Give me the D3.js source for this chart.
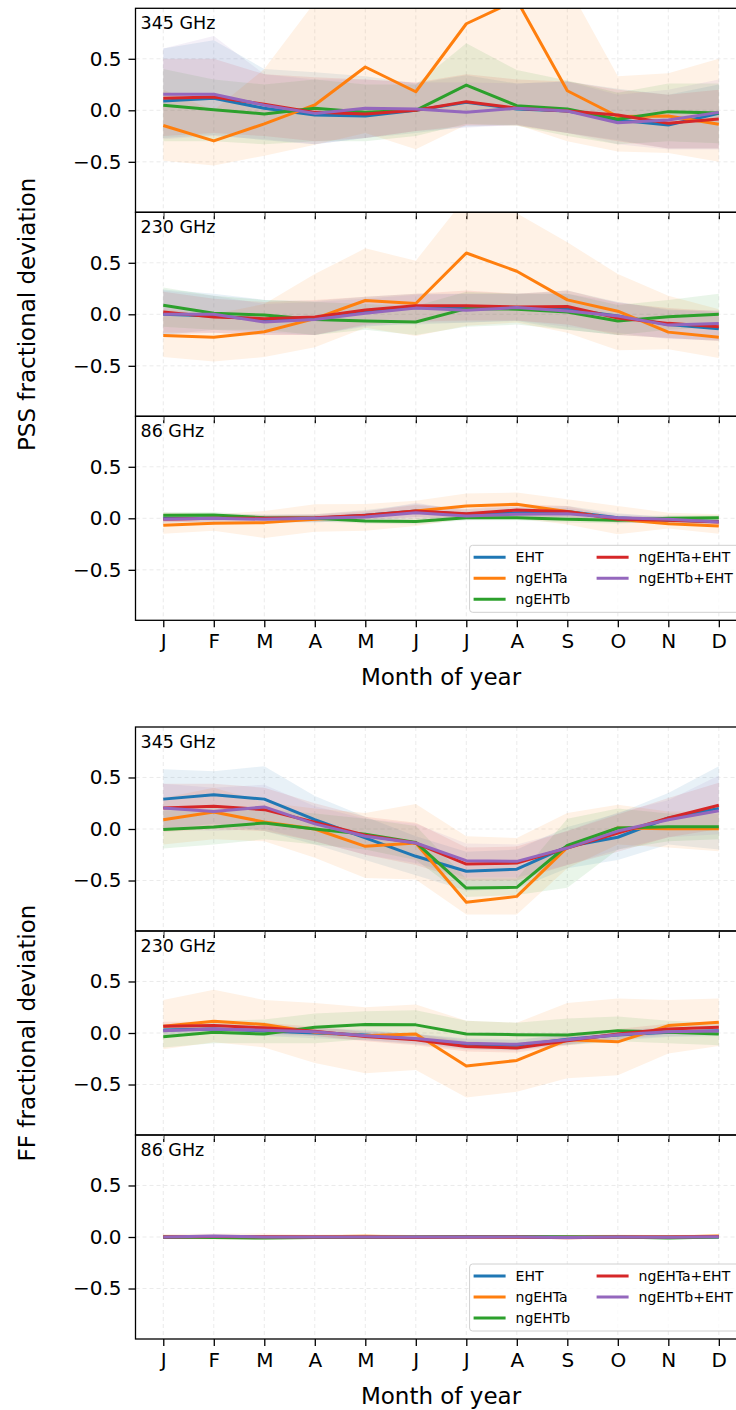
<!DOCTYPE html>
<html>
<head>
<meta charset="utf-8">
<script src="https://cdn.jsdelivr.net/npm/d3@7"></script>
<style>
  body { margin: 0; background: #fff; }
  svg { display: block; font-family: 'DejaVu Sans', sans-serif; }
</style>
</head>
<body>
<div id="chart"></div>
<script>
var months = ['J', 'F', 'M', 'A', 'M', 'J', 'J', 'A', 'S', 'O', 'N', 'D'];
var series = ['EHT', 'ngEHTa', 'ngEHTb', 'ngEHTa+EHT', 'ngEHTb+EHT'];
var colors = ['#1f77b4', '#ff7f0e', '#2ca02c', '#d62728', '#9467bd'];
var freqLabels = ['345 GHz', '230 GHz', '86 GHz'];
var yTicks = [-0.5, 0, 0.5];
var yLabels = ['PSS fractional deviation', 'FF fractional deviation'];

// PSS, 345 GHz (rows follow series order)
var pss345Mid = [
  [0.09, 0.116, 0.02, -0.045, -0.055, 0, 0.077, 0.013, -0.006, -0.094, -0.142, -0.03],
  [-0.148, -0.297, -0.132, 0.052, 0.42, 0.18, 0.84, 1.07, 0.19, -0.06, -0.055, -0.135],
  [0.05, 0.006, -0.035, 0.02, -0.02, 0, 0.245, 0.045, 0.013, -0.087, -0.013, -0.026],
  [0.116, 0.13, 0.058, -0.02, -0.035, 0, 0.084, 0.02, -0.006, -0.045, -0.126, -0.084],
  [0.155, 0.155, 0.05, -0.03, 0.02, 0.013, -0.02, 0.02, -0.006, -0.12, -0.094, -0.02]
];
var pss345Lo = [
  [-0.27, -0.24, -0.29, -0.33, -0.27, -0.22, -0.16, -0.14, -0.22, -0.29, -0.37, -0.37],
  [-0.49, -0.535, -0.44, -0.335, -0.22, -0.377, -0.14, -0.14, -0.3, -0.4, -0.415, -0.5],
  [-0.3, -0.3, -0.33, -0.3, -0.3, -0.25, -0.13, -0.15, -0.25, -0.33, -0.3, -0.32],
  [-0.25, -0.22, -0.25, -0.3, -0.27, -0.2, -0.15, -0.15, -0.22, -0.3, -0.37, -0.37],
  [-0.28, -0.25, -0.28, -0.33, -0.27, -0.2, -0.17, -0.14, -0.22, -0.33, -0.38, -0.38]
];
var pss345Hi = [
  [0.6, 0.68, 0.4, 0.37, 0.33, 0.26, 0.34, 0.26, 0.28, 0.21, 0.15, 0.25],
  [0.2, 0.0, 0.4, 1.05, 1.5, 1.3, 1.7, 2.1, 1.22, 0.33, 0.36, 0.5],
  [0.4, 0.3, 0.25, 0.3, 0.25, 0.25, 0.65, 0.39, 0.29, 0.17, 0.26, 0.26],
  [0.5, 0.5, 0.35, 0.32, 0.3, 0.27, 0.35, 0.3, 0.28, 0.2, 0.15, 0.2],
  [0.6, 0.72, 0.35, 0.3, 0.3, 0.27, 0.27, 0.26, 0.28, 0.15, 0.2, 0.3]
];

// PSS, 230 GHz
var pss230Mid = [
  [0, -0.016, -0.05, -0.05, 0.033, 0.065, 0.06, 0.065, 0.05, -0.016, -0.1, -0.14],
  [-0.206, -0.222, -0.17, -0.042, 0.134, 0.105, 0.595, 0.418, 0.14, 0.03, -0.173, -0.222],
  [0.088, 0.01, -0.007, -0.05, -0.065, -0.075, 0.055, 0.05, 0.023, -0.065, -0.023, 0],
  [0.023, -0.026, -0.042, -0.026, 0.042, 0.082, 0.082, 0.072, 0.075, -0.036, -0.088, -0.12],
  [0, 0, -0.075, -0.05, 0.01, 0.06, 0.04, 0.065, 0.033, -0.016, -0.105, -0.09]
];
var pss230Lo = [
  [-0.2, -0.15, -0.18, -0.2, -0.11, -0.1, -0.08, -0.065, -0.15, -0.2, -0.23, -0.26],
  [-0.415, -0.457, -0.415, -0.32, -0.13, -0.21, -0.11, -0.08, -0.18, -0.35, -0.34, -0.425],
  [-0.12, -0.15, -0.15, -0.2, -0.15, -0.2, -0.12, -0.1, -0.15, -0.2, -0.15, -0.12],
  [-0.18, -0.18, -0.2, -0.2, -0.1, -0.07, -0.06, -0.06, -0.1, -0.2, -0.23, -0.26],
  [-0.2, -0.18, -0.2, -0.2, -0.12, -0.08, -0.08, -0.06, -0.12, -0.18, -0.24, -0.25]
];
var pss230Hi = [
  [0.24, 0.2, 0.14, 0.13, 0.17, 0.2, 0.2, 0.2, 0.23, 0.12, 0.05, 0.02],
  [0.05, 0.0, 0.1, 0.39, 0.64, 0.52, 1.14, 0.98, 0.7, 0.39, 0.18, 0.05],
  [0.26, 0.18, 0.14, 0.12, 0.1, 0.08, 0.22, 0.2, 0.2, 0.09, 0.14, 0.2],
  [0.22, 0.15, 0.12, 0.14, 0.17, 0.2, 0.23, 0.2, 0.23, 0.11, 0.06, 0.03],
  [0.23, 0.18, 0.1, 0.12, 0.15, 0.19, 0.2, 0.2, 0.2, 0.12, 0.04, 0.04]
];

// PSS, 86 GHz
var pss86Mid = [
  [0, 0, 0, 0, 0.03, 0.07, 0.04, 0.055, 0.065, 0.006, -0.02, -0.03],
  [-0.068, -0.049, -0.042, -0.01, 0.023, 0.07, 0.12, 0.136, 0.065, -0.01, -0.052, -0.075],
  [0.03, 0.032, 0.006, 0, -0.026, -0.032, 0.006, 0.006, -0.01, -0.02, 0, 0.006],
  [-0.01, 0, 0, 0.006, 0.03, 0.07, 0.045, 0.08, 0.065, -0.01, -0.02, -0.035],
  [-0.01, 0, -0.01, 0, 0.013, 0.055, 0.023, 0.04, 0.045, 0.006, -0.01, -0.035]
];
var pss86Lo = [
  [-0.04, -0.04, -0.04, -0.04, -0.02, 0.01, -0.01, 0.0, 0.01, -0.04, -0.05, -0.06],
  [-0.15, -0.12, -0.19, -0.13, -0.12, -0.075, 0, 0, -0.06, -0.155, -0.1, -0.15],
  [0.0, 0.0, -0.02, -0.03, -0.05, -0.06, -0.02, -0.02, -0.04, -0.05, -0.03, -0.02],
  [-0.04, -0.03, -0.03, -0.03, -0.01, 0.01, 0, 0.02, 0.01, -0.04, -0.05, -0.06],
  [-0.04, -0.03, -0.04, -0.03, -0.03, -0.01, -0.02, 0, 0, -0.03, -0.04, -0.06]
];
var pss86Hi = [
  [0.04, 0.04, 0.04, 0.04, 0.08, 0.14, 0.09, 0.11, 0.12, 0.05, 0.01, 0.0],
  [0.055, 0.04, 0.07, 0.136, 0.14, 0.17, 0.24, 0.25, 0.185, 0.12, 0.055, 0.04],
  [0.06, 0.06, 0.03, 0.03, 0.0, 0.0, 0.03, 0.03, 0.02, 0.01, 0.03, 0.03],
  [0.02, 0.03, 0.03, 0.04, 0.07, 0.13, 0.09, 0.14, 0.12, 0.02, 0.01, -0.01],
  [0.02, 0.03, 0.02, 0.03, 0.06, 0.15, 0.07, 0.09, 0.1, 0.04, 0.02, -0.01]
];

// FF, 345 GHz
var ff345Mid = [
  [0.29, 0.333, 0.29, 0.09, -0.087, -0.265, -0.41, -0.39, -0.17, -0.08, 0.107, 0.2],
  [0.09, 0.165, 0.068, 0, -0.168, -0.136, -0.71, -0.654, -0.178, 0.01, 0.003, 0.003],
  [-0.006, 0.02, 0.058, 0, -0.05, -0.13, -0.573, -0.566, -0.16, 0.01, 0.023, 0.023],
  [0.204, 0.22, 0.188, 0.065, -0.06, -0.136, -0.34, -0.33, -0.185, -0.04, 0.107, 0.23],
  [0.204, 0.17, 0.214, 0.05, -0.07, -0.136, -0.307, -0.314, -0.185, -0.02, 0.09, 0.178]
];
var ff345Lo = [
  [0.0, 0.05, -0.02, -0.15, -0.3, -0.45, -0.6, -0.58, -0.38, -0.3, -0.15, -0.2],
  [-0.15, -0.1, -0.12, -0.28, -0.476, -0.49, -0.83, -0.83, -0.38, -0.15, -0.18, -0.217],
  [-0.19, -0.15, -0.1, -0.15, -0.2, -0.3, -0.66, -0.64, -0.57, -0.2, -0.12, -0.1],
  [-0.03, 0.0, -0.02, -0.12, -0.25, -0.35, -0.5, -0.5, -0.35, -0.22, -0.08, 0.0],
  [0.0, -0.02, 0.0, -0.12, -0.25, -0.33, -0.47, -0.47, -0.35, -0.2, -0.08, -0.05]
];
var ff345Hi = [
  [0.58, 0.56, 0.61, 0.32, 0.12, -0.07, -0.22, -0.2, 0.02, 0.15, 0.35, 0.61],
  [0.3, 0.4, 0.26, 0.2, 0.155, 0.243, -0.07, -0.087, 0.155, 0.236, 0.17, 0.17],
  [0.18, 0.2, 0.2, 0.15, 0.1, 0.03, -0.48, -0.48, 0.1, 0.2, 0.15, 0.15],
  [0.44, 0.44, 0.4, 0.25, 0.12, 0.06, -0.18, -0.17, -0.02, 0.14, 0.3, 0.45],
  [0.44, 0.4, 0.43, 0.22, 0.1, 0.05, -0.14, -0.15, -0.02, 0.16, 0.28, 0.52]
];

// FF, 230 GHz
var ff230Mid = [
  [0.03, 0.04, 0.02, 0, -0.02, -0.06, -0.11, -0.12, -0.06, -0.02, 0.007, 0.023],
  [0.066, 0.115, 0.082, 0.007, -0.026, -0.01, -0.32, -0.266, -0.066, -0.086, 0.072, 0.105],
  [-0.036, 0.007, -0.01, 0.056, 0.082, 0.079, -0.01, -0.016, -0.02, 0.023, 0.007, -0.01],
  [0.066, 0.072, 0.05, 0.016, -0.033, -0.066, -0.13, -0.145, -0.075, -0.01, 0.04, 0.056],
  [0.023, 0.04, 0.026, 0.013, -0.026, -0.053, -0.1, -0.11, -0.066, -0.016, 0.013, 0.02]
];
var ff230Lo = [
  [-0.02, -0.01, -0.03, -0.05, -0.07, -0.11, -0.16, -0.17, -0.11, -0.07, -0.04, -0.03],
  [-0.158, -0.09, -0.14, -0.29, -0.39, -0.36, -0.625, -0.57, -0.44, -0.41, -0.2, -0.125],
  [-0.14, -0.1, -0.1, -0.1, -0.06, -0.06, -0.125, -0.125, -0.12, -0.08, -0.1, -0.12],
  [0.02, 0.03, 0.0, -0.03, -0.08, -0.12, -0.18, -0.19, -0.12, -0.06, -0.01, 0.01],
  [-0.02, 0.0, -0.02, -0.03, -0.07, -0.1, -0.15, -0.16, -0.11, -0.06, -0.03, -0.02]
];
var ff230Hi = [
  [0.08, 0.09, 0.07, 0.05, 0.03, -0.01, -0.06, -0.07, -0.01, 0.03, 0.05, 0.07],
  [0.32, 0.42, 0.32, 0.29, 0.25, 0.276, 0.12, 0.1, 0.29, 0.335, 0.32, 0.335],
  [0.07, 0.12, 0.13, 0.19, 0.21, 0.22, 0.12, 0.1, 0.14, 0.16, 0.12, 0.1],
  [0.11, 0.11, 0.1, 0.06, 0.01, -0.01, -0.08, -0.1, -0.03, 0.04, 0.09, 0.1],
  [0.07, 0.08, 0.07, 0.05, 0.02, -0.01, -0.05, -0.06, -0.02, 0.03, 0.05, 0.06]
];

// FF, 86 GHz
var ff86Mid = [
  [-0.005, 0.005, 0, 0, -0.003, 0, 0, 0, 0.003, 0, 0, 0],
  [0.005, 0.005, 0.003, 0.003, 0.008, 0, 0.003, -0.003, 0, 0.003, 0, 0.01],
  [0, -0.005, -0.01, -0.005, -0.003, 0, 0.005, 0.005, 0, 0, -0.01, 0],
  [0, 0.005, 0.003, 0, 0, -0.003, 0, 0, -0.008, 0, 0, 0.005],
  [0, 0.01, 0, 0, 0, 0, 0, 0, -0.005, 0, -0.003, 0.003]
];
var ff86Lo = [
  [-0.02, -0.01, -0.015, -0.015, -0.018, -0.015, -0.015, -0.015, -0.012, -0.015, -0.015, -0.015],
  [-0.02, -0.025, -0.03, -0.02, -0.015, -0.02, -0.015, -0.02, -0.02, -0.015, -0.02, -0.01],
  [-0.012, -0.018, -0.022, -0.018, -0.015, -0.012, -0.008, -0.008, -0.012, -0.012, -0.022, -0.012],
  [-0.012, -0.008, -0.01, -0.012, -0.012, -0.015, -0.012, -0.012, -0.02, -0.012, -0.012, -0.008],
  [-0.012, -0.004, -0.012, -0.012, -0.012, -0.012, -0.012, -0.012, -0.017, -0.012, -0.015, -0.01]
];
var ff86Hi = [
  [0.01, 0.02, 0.015, 0.015, 0.012, 0.015, 0.015, 0.015, 0.018, 0.015, 0.015, 0.015],
  [0.03, 0.035, 0.035, 0.025, 0.03, 0.02, 0.02, 0.015, 0.02, 0.025, 0.02, 0.03],
  [0.012, 0.008, 0.002, 0.008, 0.009, 0.012, 0.018, 0.018, 0.012, 0.012, 0.002, 0.012],
  [0.012, 0.018, 0.016, 0.012, 0.012, 0.009, 0.012, 0.012, 0.004, 0.012, 0.012, 0.018],
  [0.012, 0.024, 0.012, 0.012, 0.012, 0.012, 0.012, 0.012, 0.007, 0.012, 0.009, 0.016]
];

var width = 736;
var height = 1410;
var plotLeft = 135.5;
var plotRight = 746.6;
var panelH = 204;
var groupTops = [8.3, 727];

var groups = [
  { label: yLabels[0], panels: [
    { mid: pss345Mid, lo: pss345Lo, hi: pss345Hi },
    { mid: pss230Mid, lo: pss230Lo, hi: pss230Hi },
    { mid: pss86Mid, lo: pss86Lo, hi: pss86Hi }
  ] },
  { label: yLabels[1], panels: [
    { mid: ff345Mid, lo: ff345Lo, hi: ff345Hi },
    { mid: ff230Mid, lo: ff230Lo, hi: ff230Hi },
    { mid: ff86Mid, lo: ff86Lo, hi: ff86Hi }
  ] }
];

var svg = d3
  .select('#chart')
  .append('svg')
  .attr('width', width)
  .attr('height', height);

var x = d3.scaleLinear().domain([-0.55, 11.55]).range([plotLeft, plotRight]);
var fmt = d3.format('.1f');

groups.forEach(function(g, gi) {
  g.panels.forEach(function(p, pi) {
    var top = groupTops[gi] + pi * panelH;
    var bottom = top + panelH;
    var isLast = pi === g.panels.length - 1;
    var y = d3.scaleLinear().domain([-0.99, 0.99]).range([bottom, top]);
    var id = 'clip-' + gi + '-' + pi;

    svg
      .append('clipPath')
      .attr('id', id)
      .append('rect')
      .attr('x', plotLeft)
      .attr('y', top)
      .attr('width', plotRight - plotLeft)
      .attr('height', panelH);

    var panel = svg.append('g').attr('class', 'panel');
    var inner = panel.append('g').attr('clip-path', 'url(#' + id + ')');

    // grid
    inner
      .selectAll('line.vgrid')
      .data(d3.range(months.length))
      .enter()
      .append('line')
      .attr('x1', d => x(d))
      .attr('x2', d => x(d))
      .attr('y1', top)
      .attr('y2', bottom)
      .attr('stroke', '#e6e6e6')
      .attr('stroke-width', 0.8)
      .attr('stroke-dasharray', '4,3');
    inner
      .selectAll('line.hgrid')
      .data(yTicks)
      .enter()
      .append('line')
      .attr('x1', plotLeft)
      .attr('x2', plotRight)
      .attr('y1', d => y(d))
      .attr('y2', d => y(d))
      .attr('stroke', '#e6e6e6')
      .attr('stroke-width', 0.8)
      .attr('stroke-dasharray', '4,3');

    // bands
    var area = d3
      .area()
      .x((d, i) => x(i))
      .y0(d => y(d[0]))
      .y1(d => y(d[1]));
    series.forEach(function(s, si) {
      var pts = p.lo[si].map((v, i) => [v, p.hi[si][i]]);
      inner
        .append('path')
        .datum(pts)
        .attr('d', area)
        .attr('fill', colors[si])
        .attr('fill-opacity', 0.1);
    });

    // lines
    var line = d3
      .line()
      .x((d, i) => x(i))
      .y(d => y(d));
    series.forEach(function(s, si) {
      inner
        .append('path')
        .datum(p.mid[si])
        .attr('d', line)
        .attr('fill', 'none')
        .attr('stroke', colors[si])
        .attr('stroke-width', 3)
        .attr('stroke-linejoin', 'round');
    });

    // axes
    var yAxis = d3
      .axisLeft(y)
      .tickValues(yTicks)
      .tickSize(7)
      .tickPadding(7)
      .tickFormat(fmt);
    var yAxisGroup = panel
      .append('g')
      .attr('transform', 'translate(' + plotLeft + ',0)')
      .call(yAxis);
    yAxisGroup.select('.domain').remove();
    yAxisGroup.selectAll('.tick line').attr('stroke', '#000').attr('stroke-width', 1.3);
    yAxisGroup
      .selectAll('.tick text')
      .attr('font-size', 20)
      .attr('font-family', 'DejaVu Sans')
      .attr('fill', '#000');

    var xAxis = d3
      .axisBottom(x)
      .tickValues(d3.range(months.length))
      .tickSize(7)
      .tickPadding(7)
      .tickFormat(i => (isLast ? months[i] : ''));
    var xAxisGroup = panel
      .append('g')
      .attr('transform', 'translate(0,' + bottom + ')')
      .call(xAxis);
    xAxisGroup.select('.domain').remove();
    xAxisGroup.selectAll('.tick line').attr('stroke', '#000').attr('stroke-width', 1.3);
    xAxisGroup
      .selectAll('.tick text')
      .attr('font-size', 20)
      .attr('font-family', 'DejaVu Sans')
      .attr('fill', '#000');

    // frame
    panel
      .append('rect')
      .attr('x', plotLeft)
      .attr('y', top)
      .attr('width', plotRight - plotLeft)
      .attr('height', panelH)
      .attr('fill', 'none')
      .attr('stroke', '#000')
      .attr('stroke-width', 1.3);

    panel
      .append('text')
      .attr('x', plotLeft + 5)
      .attr('y', top + 21)
      .attr('font-size', 17.5)
      .text(freqLabels[pi]);

    if (isLast) {
      panel
        .append('text')
        .attr('x', 441)
        .attr('y', bottom + 65)
        .attr('text-anchor', 'middle')
        .attr('font-size', 23)
        .text('Month of year');
      drawLegend(panel, plotRight - 277, bottom - 75);
    }
  });

  var mid = groupTops[gi] + (panelH * 3) / 2;
  svg
    .append('text')
    .attr('transform', 'translate(35,' + mid + ') rotate(-90)')
    .attr('text-anchor', 'middle')
    .attr('font-size', 23)
    .text(g.label);
});

function drawLegend(parent, lx, ly) {
  var leg = parent.append('g').attr('transform', 'translate(' + lx + ',' + ly + ')');
  leg
    .append('rect')
    .attr('width', 290)
    .attr('height', 67)
    .attr('rx', 3)
    .attr('fill', '#fff')
    .attr('fill-opacity', 0.8)
    .attr('stroke', '#d0d0d0')
    .attr('stroke-width', 1);
  series.forEach(function(s, si) {
    var col = si < 3 ? 0 : 1;
    var row = si < 3 ? si : si - 3;
    var ex = 4 + col * 123;
    var ey = 12 + row * 21;
    leg
      .append('line')
      .attr('x1', ex)
      .attr('x2', ex + 32)
      .attr('y1', ey)
      .attr('y2', ey)
      .attr('stroke', colors[si])
      .attr('stroke-width', 3);
    leg
      .append('text')
      .attr('x', ex + 42)
      .attr('y', ey + 5)
      .attr('font-size', 14)
      .text(s);
  });
}
</script>
</body>
</html>
